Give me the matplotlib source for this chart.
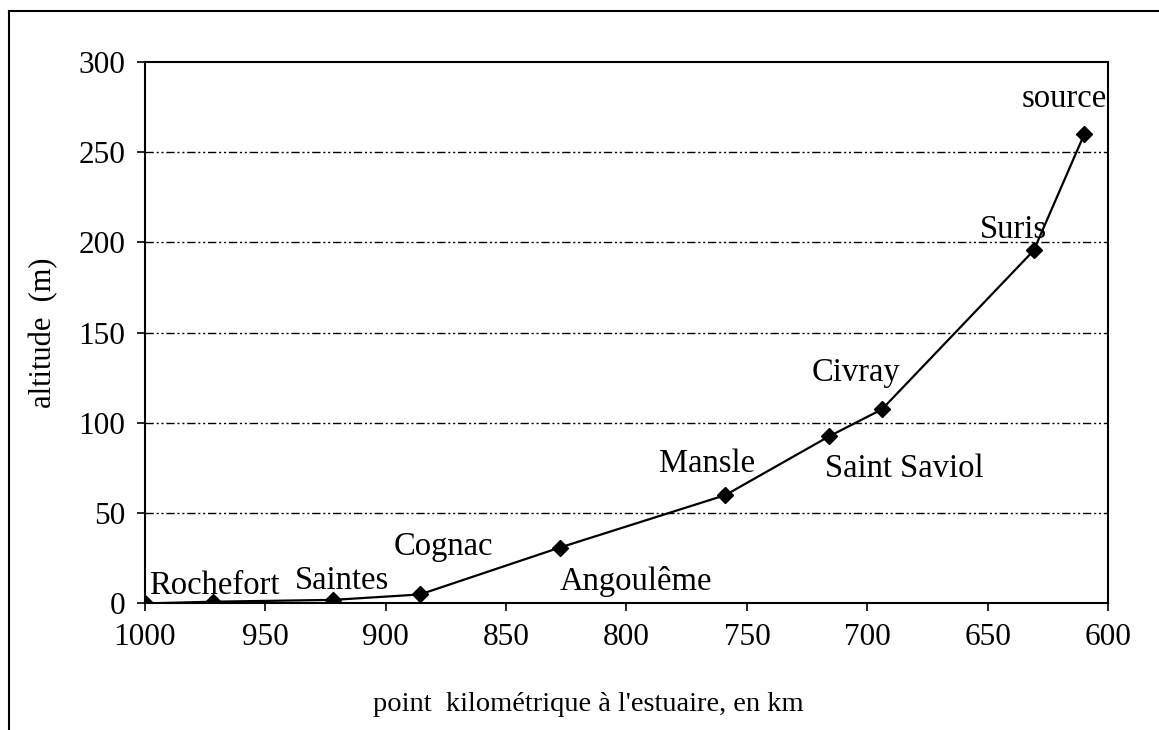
import matplotlib
matplotlib.use("Agg")
import matplotlib.pyplot as plt
from matplotlib.lines import Line2D

# profil en long : point kilométrique / altitude
places = ["Rochefort", "", "Saintes", "Cognac", "Angoulême", "Mansle",
          "Saint Saviol", "Civray", "Suris", "source"]
pk = [1000, 971.5, 921.7, 885.7, 827.6, 759, 716, 694, 631, 610]
altitude = [0, 1, 2, 5, 31, 60, 92.5, 107.5, 195.5, 260]

# decalage des etiquettes (pixels, centre / ligne de base)
label_offsets = [(70, 9), (0, 0), (9, 11), (23, 39), (76, -42), (-18, 23),
                 (75, -41), (-26, 28), (-20, 12), (-20, 27)]

plt.rcParams["font.family"] = ["Liberation Serif", "DejaVu Serif"]

fig = plt.figure(figsize=(11.59, 7.30), dpi=100)
ax = fig.add_axes([0.1247, 0.1733, 0.8317, 0.7422])

ax.plot(pk, altitude, color="black", lw=1.6, marker="D", ms=8,
        markerfacecolor="black", markeredgecolor="black", zorder=3)

for name, x, y, off in zip(places, pk, altitude, label_offsets):
    if not name:
        continue
    ax.annotate(name, (x, y), xytext=(off[0] * 0.72, off[1] * 0.72),
                textcoords="offset points", ha="center", va="baseline",
                fontsize=23.5, color="black")

ax.set_xlim(1000, 600)
ax.set_ylim(0, 300)
ax.set_xticks(range(1000, 599, -50))
ax.set_yticks(range(0, 301, 50))
ax.tick_params(direction="out", length=6, width=1.2, labelsize=22.5,
               pad=8, colors="black")

for v in range(50, 300, 50):
    ax.axhline(v, color="black", lw=1.0, ls=(0, (6, 2, 1.5, 2, 1.5, 2)),
               zorder=1)

for s in ax.spines.values():
    s.set_linewidth(1.5)
    s.set_color("black")

ax.set_xlabel("point  kilométrique à l'estuaire, en km", fontsize=20.5)
ax.xaxis.set_label_coords(0.46, -0.163)
ax.set_ylabel("altitude  (m)", fontsize=22)
ax.yaxis.set_label_coords(-0.09, 0.5)

# cadre du document scanne
fig.add_artist(Line2D([9 / 1159, 1.0], [1 - 11 / 730, 1 - 11 / 730],
                      color="black", lw=1.5, transform=fig.transFigure))
fig.add_artist(Line2D([9 / 1159, 9 / 1159], [0.0, 1 - 11 / 730],
                      color="black", lw=1.5, transform=fig.transFigure))

fig.savefig("out.png", dpi=100)
